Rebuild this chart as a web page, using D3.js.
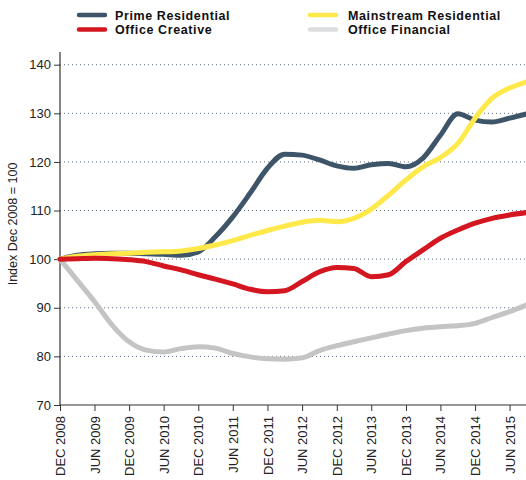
<!DOCTYPE html>
<html>
<head>
<meta charset="utf-8">
<script src="https://cdn.jsdelivr.net/npm/d3@7"></script>
<style>
  html, body { margin: 0; padding: 0; background: #fff; }
  svg { display: block; font-family: "Liberation Sans", Arial, Helvetica, sans-serif; }
</style>
</head>
<body>
<svg id="chart" width="526" height="480"></svg>
<script>
// Quarterly observation dates (year-month)
const quarters = [
  "2008-12","2009-03","2009-06","2009-09","2009-12","2010-03","2010-06","2010-09",
  "2010-12","2011-03","2011-06","2011-09","2011-12","2012-03","2012-06","2012-09",
  "2012-12","2013-03","2013-06","2013-09","2013-12","2014-03","2014-06","2014-09",
  "2014-12","2015-03","2015-06","2015-09"
];

// Index values, Dec 2008 = 100
const primeResidential = [
  100, 100.8, 101.1, 101.2, 101.2, 101.1, 101.0, 100.8,
  101.5, 104.6, 108.7, 113.6, 118.7, 121.6, 121.4, 120.4,
  119.2, 118.7, 119.4, 119.7, 119.0, 120.8, 125.5, 129.9,
  128.6, 128.2, 129.0, 129.9
];
const mainstreamResidential = [
  100, 100.6, 100.9, 101.1, 101.2, 101.4, 101.5, 101.7,
  102.2, 102.9, 103.8, 104.9, 105.9, 106.8, 107.6, 108.0,
  107.7, 108.4, 110.3, 113.2, 116.3, 119.0, 120.9, 123.8,
  129.0, 133.1, 135.2, 136.5
];
const officeCreative = [
  100, 100.1, 100.2, 100.1, 99.9, 99.5, 98.6, 97.8,
  96.8, 95.9, 94.9, 93.8, 93.3, 93.5, 95.4, 97.4,
  98.3, 98.1, 96.4, 96.8, 99.5, 101.9, 104.3, 106.0,
  107.4, 108.4, 109.1, 109.6
];
const officeFinancial = [
  100, 95.7, 91.3, 86.5, 83.0, 81.3, 80.9, 81.6,
  82.0, 81.7, 80.6, 79.9, 79.5, 79.4, 79.7, 81.2,
  82.2, 83.0, 83.8, 84.6, 85.3, 85.8, 86.1, 86.3,
  86.8, 88.0, 89.2, 90.6
];

const seriesNames = ["Prime Residential", "Mainstream Residential", "Office Creative", "Office Financial"];
const seriesColors = ["#3e5569", "#ffe94a", "#d3161f", "#c4c4c4"];
const legendSwatchColors = ["#3e5569", "#ffe94a", "#d3161f", "#dcdddf"];
const yTicks = [70, 80, 90, 100, 110, 120, 130, 140];
const xTickLabels = [
  "2008-12","2009-06","2009-12","2010-06","2010-12","2011-06","2011-12",
  "2012-06","2012-12","2013-06","2013-12","2014-06","2014-12","2015-06"
];

const parse = d3.timeParse("%Y-%m");
const dates = quarters.map(parse);

const svg = d3.select("#chart");
const plotLeft = 60, plotRight = 527, plotTop = 64.7, plotBottom = 405;

const x = d3.scaleTime()
  .domain([parse("2008-12"), parse("2015-09")])
  .range([plotLeft, plotRight]);
const y = d3.scaleLinear().domain([70, 140]).range([plotBottom, plotTop]);

// Dotted horizontal gridlines
svg.append("g")
  .selectAll("line")
  .data(yTicks.filter(t => t > 70))
  .join("line")
  .attr("x1", plotLeft).attr("x2", 526)
  .attr("y1", d => y(d)).attr("y2", d => y(d))
  .attr("stroke", "#5d6d7c")
  .attr("stroke-width", 1)
  .attr("stroke-dasharray", "1,3");

// Y axis
const yAxis = svg.append("g")
  .attr("transform", `translate(${plotLeft},0)`)
  .call(d3.axisLeft(y).tickValues(yTicks).tickSize(6).tickPadding(3));
yAxis.select(".domain").remove();
yAxis.selectAll("text").attr("font-size", 13).attr("fill", "#222").style("font-family", "inherit");
yAxis.selectAll(".tick line").attr("stroke", "#333");
svg.append("line")
  .attr("x1", plotLeft).attr("x2", plotLeft).attr("y1", 52).attr("y2", plotBottom)
  .attr("stroke", "#333").attr("stroke-width", 1.2);

// X axis
const fmt = d3.timeFormat("%b %Y");
const xAxis = svg.append("g")
  .attr("transform", `translate(0,${plotBottom})`)
  .call(d3.axisBottom(x).tickValues(xTickLabels.map(parse)).tickSize(6)
    .tickFormat(d => fmt(d).toUpperCase()));
xAxis.select(".domain").remove();
xAxis.selectAll(".tick line").attr("stroke", "#333");
xAxis.selectAll("text")
  .attr("font-size", 13).attr("fill", "#222").style("font-family", "inherit")
  .attr("transform", "rotate(-90)")
  .attr("text-anchor", "end")
  .attr("x", -11).attr("y", 0).attr("dy", "0.35em");
svg.append("line")
  .attr("x1", plotLeft).attr("x2", 526).attr("y1", plotBottom).attr("y2", plotBottom)
  .attr("stroke", "#333").attr("stroke-width", 1.2);

// Y axis title
svg.append("text")
  .attr("transform", "translate(17,224) rotate(-90)")
  .attr("text-anchor", "middle")
  .attr("font-size", 12.5)
  .attr("fill", "#222")
  .text("Index Dec 2008 = 100");

// Lines
const values = [primeResidential, mainstreamResidential, officeCreative, officeFinancial];
const line = d3.line()
  .x((d, i) => x(dates[i]))
  .y(d => y(d))
  .curve(d3.curveMonotoneX);

const drawOrder = [3, 0, 1, 2];
svg.append("g")
  .selectAll("path")
  .data(drawOrder)
  .join("path")
  .attr("d", k => line(values[k]))
  .attr("fill", "none")
  .attr("stroke", k => seriesColors[k])
  .attr("stroke-width", 5)
  .attr("stroke-linejoin", "round")
  .attr("stroke-linecap", "round");

// Legend: two columns, two rows
const legendPos = [[77, 15], [308, 15], [77, 29.5], [308, 29.5]];
const legend = svg.append("g")
  .selectAll("g")
  .data(seriesNames)
  .join("g")
  .attr("transform", (d, i) => `translate(${legendPos[i][0]},${legendPos[i][1]})`);
legend.append("line")
  .attr("x1", 2).attr("x2", 28).attr("y1", 0).attr("y2", 0)
  .attr("stroke", (d, i) => legendSwatchColors[i])
  .attr("stroke-width", 4.5)
  .attr("stroke-linecap", "round");
legend.append("text")
  .attr("x", (d, i) => (i % 2 === 0 ? 38 : 40)).attr("y", 4.6)
  .attr("font-size", 12.5)
  .attr("letter-spacing", 0.6)
  .attr("font-weight", "bold")
  .attr("fill", "#111")
  .text(d => d);
</script>
</body>
</html>
